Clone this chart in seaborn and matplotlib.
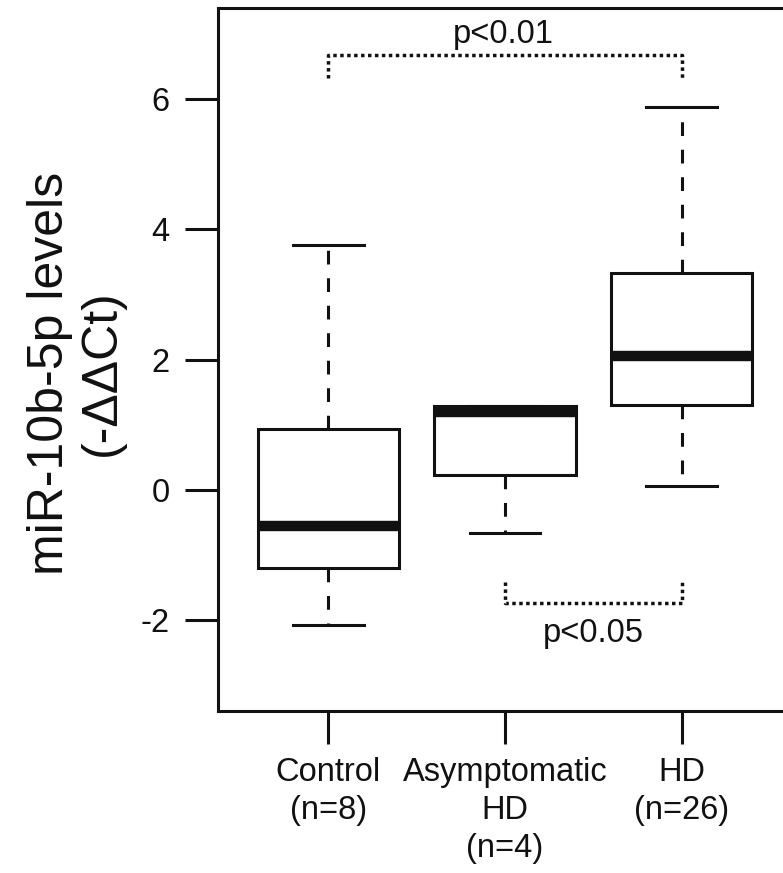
import numpy as np
import pandas as pd
import matplotlib
matplotlib.use("Agg")
import matplotlib.pyplot as plt
import seaborn as sns

plt.rcParams['font.family'] = ['Liberation Sans', 'DejaVu Sans']
plt.rcParams['axes.unicode_minus'] = False

# ---- data (five-number summaries) ----
groups = ["Control", "Asymptomatic HD", "HD"]
tick_labels = ["Control\n(n=8)", "Asymptomatic\nHD\n(n=4)", "HD\n(n=26)"]
whisker_low = [-2.08, -0.66, 0.06]
q1 = [-1.20, 0.23, 1.30]
median = [-0.56, 1.20, 2.05]
q3 = [0.93, 1.28, 3.33]
whisker_high = [3.76, 1.28, 5.88]
yticks = [-2, 0, 2, 4, 6]

# significance brackets: (group a, group b, label)
sig_top = ("Control", "HD", "p<0.01")
sig_bottom = ("Asymptomatic HD", "HD", "p<0.05")

rows = []
for g, a, b, c, d, e in zip(groups, whisker_low, q1, median, q3, whisker_high):
    for v in (a, b, c, d, e):
        rows.append({"group": g, "value": v})
df = pd.DataFrame(rows)

W, H, DPI = 783, 873, 100
fig = plt.figure(figsize=(W / DPI, H / DPI), dpi=DPI)
ax = fig.add_axes([218 / W, 1 - 711 / H, (792 - 218) / W, (711 - 8) / H])

lw = 2.2
sns.boxplot(
    data=df, x="group", y="value", order=groups, ax=ax,
    color="white", linecolor="#111111", linewidth=lw, width=0.8,
    whis=(0, 100), showfliers=False,
    boxprops=dict(facecolor="white", edgecolor="#111111", linewidth=lw),
    medianprops=dict(color="#111111", linewidth=7.5, solid_capstyle="butt"),
    whiskerprops=dict(color="#111111", linewidth=lw, linestyle=(0, (4.5, 4.5))),
    capprops=dict(color="#111111", linewidth=lw),
)

ax.set_xlim(-0.624, 2.624)
ax.set_ylim(-3.40, 7.40)
ax.set_yticks(yticks)
ax.set_yticklabels([str(t) for t in yticks])
ax.set_xticks(range(len(groups)))
ax.set_xticklabels(tick_labels, linespacing=1.3)
ax.set_xlabel("")
ax.set_ylabel("miR-10b-5p levels\n(-ΔΔCt)", fontsize=36, linespacing=1.15,
              color="#111111")
ax.yaxis.set_label_coords(-0.163, 0.4808)

for s in ax.spines.values():
    s.set_linewidth(lw)
    s.set_color("#111111")
ax.tick_params(axis="both", length=24, width=lw, color="#111111",
               labelsize=23.5, labelcolor="#111111")
ax.tick_params(axis="y", pad=11)
ax.tick_params(axis="x", pad=9)

pos = {g: i for i, g in enumerate(groups)}
dot = (0, (1, 1))
# top bracket
a, b, lab = sig_top
ax.plot([pos[a], pos[a], pos[b], pos[b]], [6.33, 6.68, 6.68, 6.33],
        color="#111111", linewidth=2.5, linestyle=dot)
ax.text((pos[a] + pos[b]) / 2 - 0.01, 6.86, lab, ha="center", va="baseline",
        fontsize=23.5, color="#111111")
# bottom bracket
a, b, lab = sig_bottom
ax.plot([pos[a], pos[a], pos[b], pos[b]], [-1.42, -1.74, -1.74, -1.42],
        color="#111111", linewidth=2.5, linestyle=dot)
ax.text((pos[a] + pos[b]) / 2, -2.34, lab, ha="center", va="baseline",
        fontsize=23.5, color="#111111")

fig.savefig("out.png", dpi=DPI)
